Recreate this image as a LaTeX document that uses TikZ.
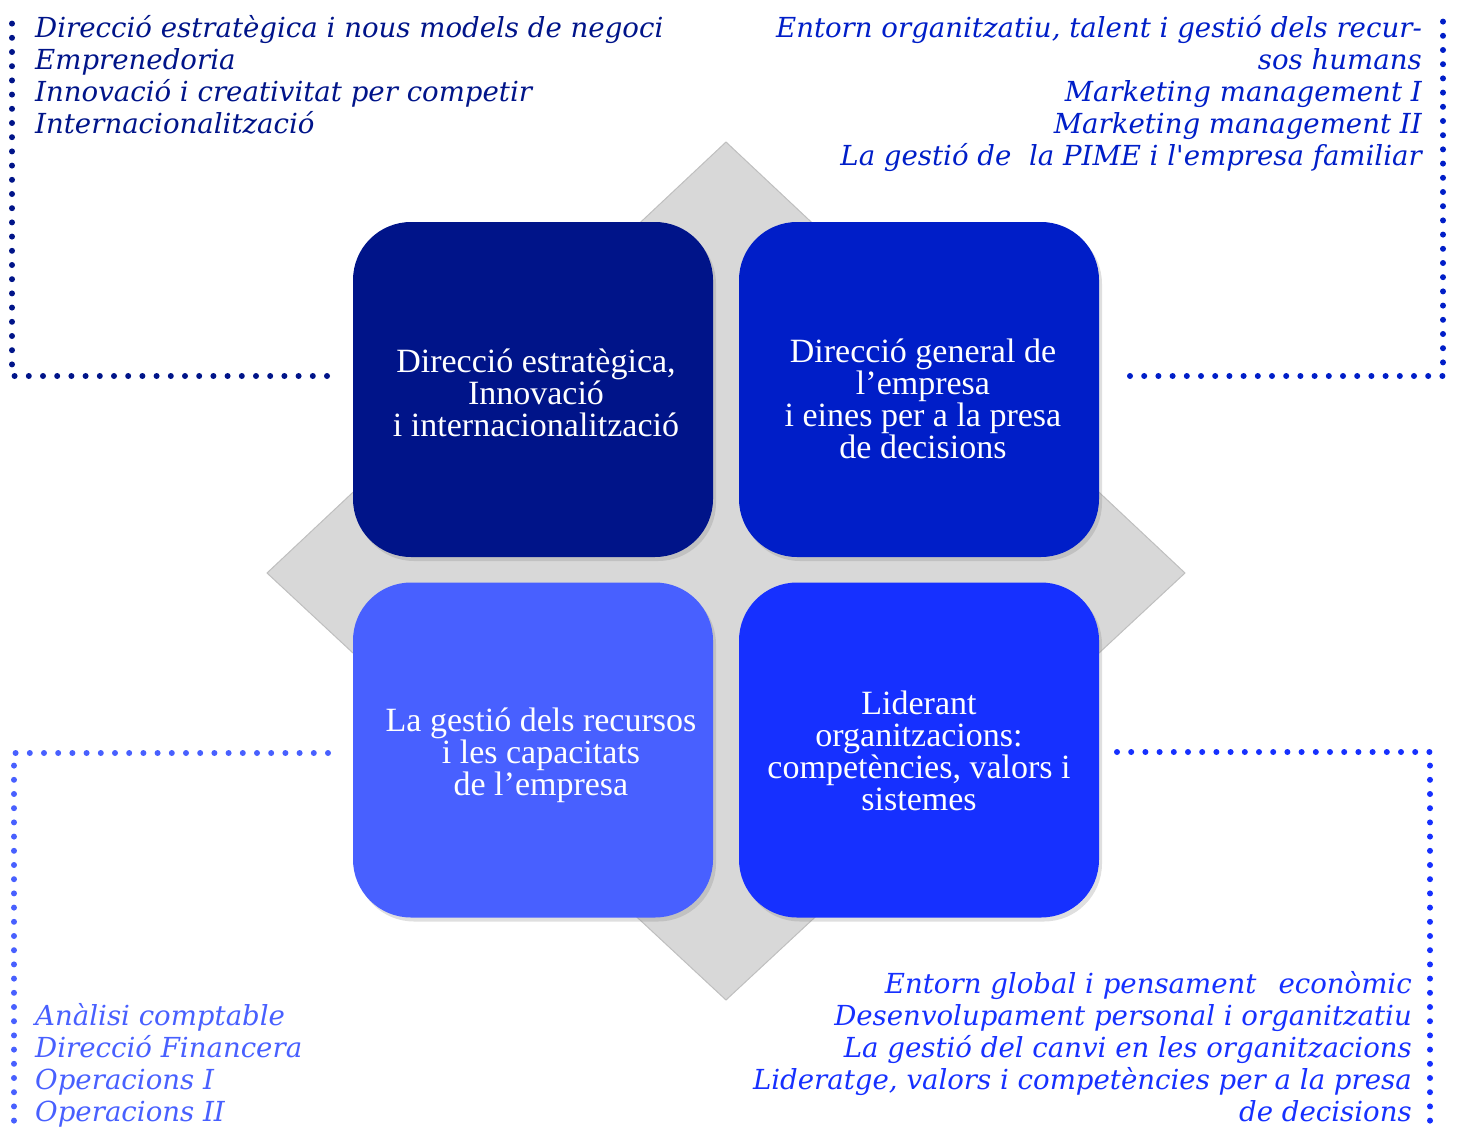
\documentclass[tikz,border=0pt]{standalone}
\usepackage{fontspec}
\setmainfont{Liberation Serif}
\newfontfamily\sidefont{DejaVu Serif}
\usetikzlibrary{shadows}
\definecolor{cNavy}{RGB}{0,20,137}
\definecolor{cMid}{RGB}{0,30,200}
\definecolor{cLight}{RGB}{72,96,255}
\definecolor{cBright}{RGB}{22,48,255}
\definecolor{cGray}{RGB}{216,216,216}
\tikzset{
  tile/.style={rounded corners=58pt, minimum width=360pt, minimum height=335pt,
    inner sep=0pt,
    drop shadow={opacity=0.25, shadow xshift=3pt, shadow yshift=-4pt}},
  tiletext/.style={text=white, align=center, inner sep=0pt,
    font=\fontsize{34}{32}\selectfont},
  sidetext/.style={inner sep=0pt, font=\sidefont\itshape\fontsize{27.6}{32}\selectfont},
  dots/.style={line width=6pt, line cap=round, dash pattern=on 0pt off 14.2pt},
}
\begin{document}
\begin{tikzpicture}[x=1pt,y=-1pt]
\useasboundingbox (0,0) rectangle (1457,1129);
% grey diamond
\coordinate (dT) at (726,142);
\coordinate (dR) at (1185,573);
\coordinate (dB) at (726,1000);
\coordinate (dL) at (267,573);
\fill[cGray, draw=black!25, line width=1pt] (dT) -- (dR) -- (dB) -- (dL) -- cycle;
% tiles
\node[tile, fill=cNavy] (tl) at (533,389.5) {};
\node[tile, fill=cMid] (tr) at (919,389.5) {};
\node[tile, fill=cLight] (bl) at (533,750) {};
\node[tile, fill=cBright] (br) at (919,750) {};
\node[tiletext] (tlt) at ([xshift=3pt,yshift=-3pt]tl.center) {Direcció estratègica,\\Innovació\\i internacionalització};
\node[tiletext] (trt) at ([xshift=4pt,yshift=-9pt]tr.center) {Direcció general de\\l’empresa\\i eines per a la presa\\de decisions};
\node[tiletext] (blt) at ([xshift=8pt,yshift=-5pt]bl.center) {La gestió dels recursos\\i les capacitats\\de l’empresa};
\node[tiletext] (brt) at ([xshift=0pt,yshift=-1pt]br.center) {Liderant\\organitzacions:\\competències, valors i\\sistemes};
% side texts
\node[sidetext, anchor=north west, align=left, text=cNavy] (ttl) at (35,15)
  {Direcció estratègica i nous models de negoci\\Emprenedoria\\Innovació i creativitat per competir\\Internacionalització};
\node[sidetext, anchor=north east, align=right, text=cMid] (ttr) at (1422,15)
  {Entorn organitzatiu, talent i gestió dels recur-\\sos humans\\Marketing management I\\Marketing management II\\La gestió de\ \ la PIME i l\textquotesingle empresa familiar};
\node[sidetext, anchor=north west, align=left, text=cLight] (tbl) at (35,1003)
  {Anàlisi comptable\\Direcció Financera\\Operacions I\\Operacions II};
\node[sidetext, anchor=north east, align=right, text=cBright] (tbr) at (1412,971)
  {Entorn global i pensament\hspace{22pt}econòmic\\Desenvolupament personal i organitzatiu\\La gestió del canvi en les organitzacions\\Lideratge, valors i competències per a la presa\\de decisions};
% dotted brackets
\coordinate (a1) at (12,12); \coordinate (a2) at (12,376); \coordinate (a3) at (327,376);
\draw[dots, cNavy] (a3) -- (a2) -- (a1);
\coordinate (b1) at (1443,12); \coordinate (b2) at (1443,376); \coordinate (b3) at (1130,376);
\draw[dots, cMid] (b3) -- (b2) -- (b1);
\coordinate (c1) at (328,753); \coordinate (c2) at (14,753); \coordinate (c3) at (14,1125);
\draw[dots, cLight] (c1) -- (c2) -- (c3);
\coordinate (e1) at (1117,752); \coordinate (e2) at (1430,752); \coordinate (e3) at (1430,1125);
\draw[dots, cBright] (e1) -- (e2) -- (e3);
\end{tikzpicture}
\end{document}
